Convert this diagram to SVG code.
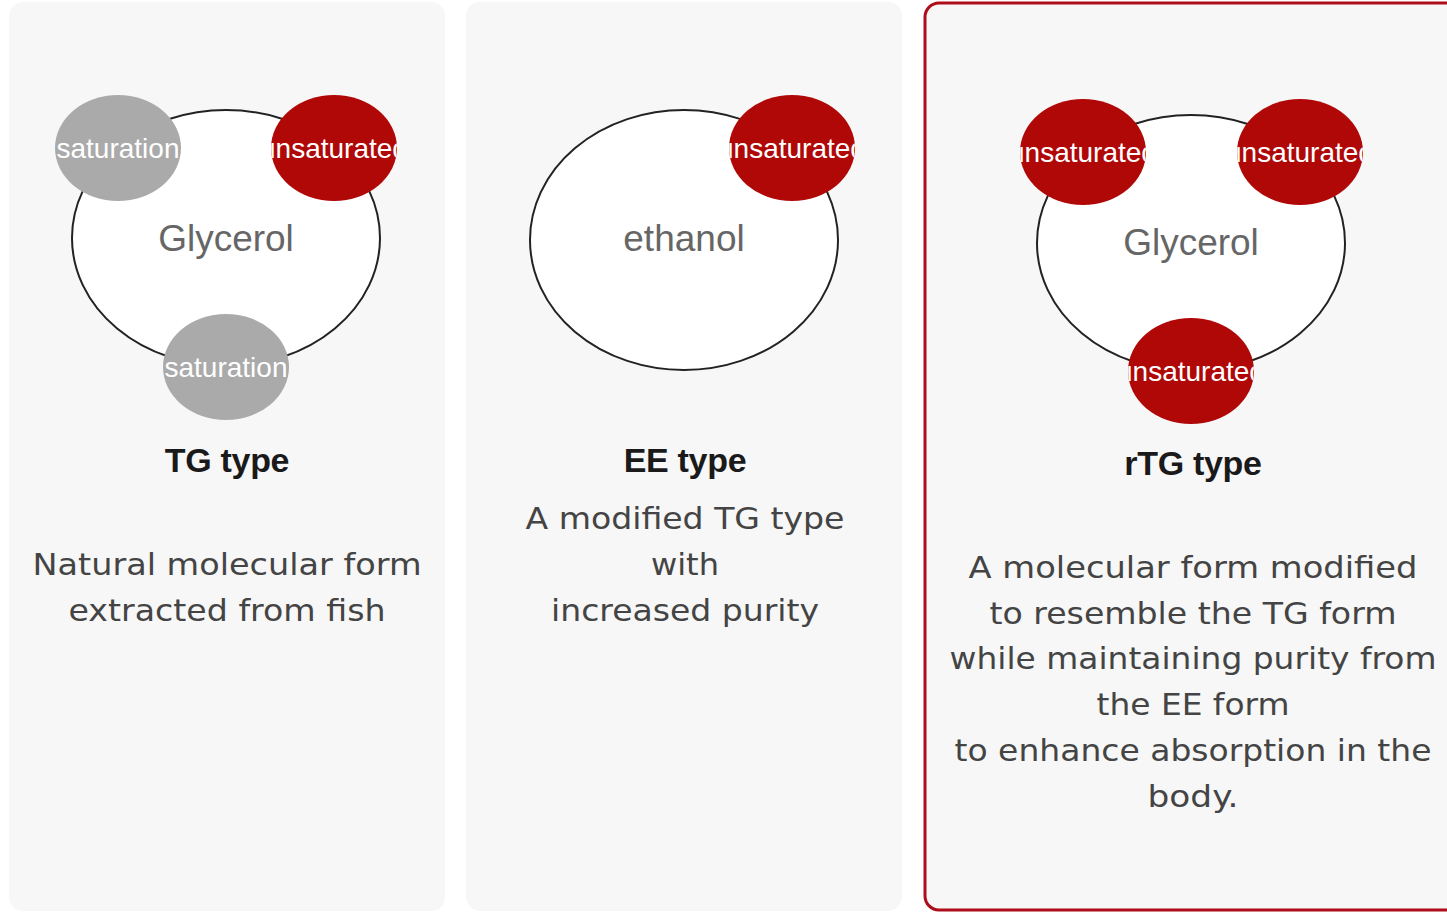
<svg xmlns="http://www.w3.org/2000/svg" width="1447" height="913" viewBox="0 0 1447 913">
<style>
.panel{fill:#f7f7f7}
.ring{fill:#ffffff;stroke:#222222;stroke-width:2}
.sat{fill:#aaaaaa}
.uns{fill:#b00707}
.ctext{font-family:"Liberation Sans",Arial,sans-serif;font-size:28px;fill:#ffffff;text-anchor:middle}
.core{font-family:"Liberation Sans",Arial,sans-serif;font-size:37px;fill:#666666;text-anchor:middle}
.title{font-family:"Liberation Sans",Arial,sans-serif;font-size:34px;font-weight:bold;fill:#1a1a1a;text-anchor:middle;letter-spacing:-0.3px}
.desc{font-family:"DejaVu Sans","Noto Sans",sans-serif;font-size:31px;fill:#444444;text-anchor:middle}
</style>
<defs>
<clipPath id="c1a"><ellipse cx="118" cy="148" rx="63" ry="53"/></clipPath>
<clipPath id="c1b"><ellipse cx="334" cy="148" rx="63" ry="53"/></clipPath>
<clipPath id="c1c"><ellipse cx="226" cy="367" rx="63" ry="53"/></clipPath>
<clipPath id="c2a"><ellipse cx="792" cy="148" rx="63" ry="53"/></clipPath>
<clipPath id="c3a"><ellipse cx="1083" cy="152" rx="63" ry="53"/></clipPath>
<clipPath id="c3b"><ellipse cx="1300" cy="152" rx="63" ry="53"/></clipPath>
<clipPath id="c3c"><ellipse cx="1191" cy="371" rx="63" ry="53"/></clipPath>
</defs>
<rect width="1447" height="913" fill="#ffffff"/>

<g id="panel-tg">
<rect class="panel" x="9" y="2" width="436" height="909" rx="14"/>
<ellipse class="ring" cx="226" cy="238" rx="154" ry="128"/>
<text class="core" x="226" y="251">Glycerol</text>
<ellipse class="sat" cx="118" cy="148" rx="63" ry="53"/>
<text class="ctext" x="118" y="158" clip-path="url(#c1a)">saturation</text>
<ellipse class="uns" cx="334" cy="148" rx="63" ry="53"/>
<text class="ctext" x="334" y="158" clip-path="url(#c1b)">unsaturated</text>
<ellipse class="sat" cx="226" cy="367" rx="63" ry="53"/>
<text class="ctext" x="226" y="377" clip-path="url(#c1c)">saturation</text>
<text class="title" x="227" y="472">TG type</text>
<text class="desc" x="227" y="575" textLength="389" lengthAdjust="spacingAndGlyphs">Natural molecular form</text>
<text class="desc" x="227" y="621" textLength="317" lengthAdjust="spacingAndGlyphs">extracted from fish</text>
</g>

<g id="panel-ee">
<rect class="panel" x="466" y="2" width="436" height="909" rx="14"/>
<ellipse class="ring" cx="684" cy="240" rx="154" ry="130"/>
<text class="core" x="684" y="251">ethanol</text>
<ellipse class="uns" cx="792" cy="148" rx="63" ry="53"/>
<text class="ctext" x="792" y="158" clip-path="url(#c2a)">unsaturated</text>
<text class="title" x="685" y="472">EE type</text>
<text class="desc" x="685" y="529" textLength="319" lengthAdjust="spacingAndGlyphs">A modified TG type</text>
<text class="desc" x="685" y="575" textLength="68" lengthAdjust="spacingAndGlyphs">with</text>
<text class="desc" x="685" y="621" textLength="268" lengthAdjust="spacingAndGlyphs">increased purity</text>
</g>

<g id="panel-rtg">
<rect class="panel" x="925" y="3" width="540" height="907" rx="14" stroke="#b00d1c" stroke-width="3"/>
<ellipse class="ring" cx="1191" cy="243" rx="154" ry="128"/>
<text class="core" x="1191" y="255">Glycerol</text>
<ellipse class="uns" cx="1083" cy="152" rx="63" ry="53"/>
<text class="ctext" x="1083" y="162" clip-path="url(#c3a)">unsaturated</text>
<ellipse class="uns" cx="1300" cy="152" rx="63" ry="53"/>
<text class="ctext" x="1300" y="162" clip-path="url(#c3b)">unsaturated</text>
<ellipse class="uns" cx="1191" cy="371" rx="63" ry="53"/>
<text class="ctext" x="1191" y="381" clip-path="url(#c3c)">unsaturated</text>
<text class="title" x="1193" y="475">rTG type</text>
<text class="desc" x="1193" y="578" textLength="449" lengthAdjust="spacingAndGlyphs">A molecular form modified</text>
<text class="desc" x="1193" y="624" textLength="407" lengthAdjust="spacingAndGlyphs">to resemble the TG form</text>
<text class="desc" x="1193" y="669" textLength="487" lengthAdjust="spacingAndGlyphs">while maintaining purity from</text>
<text class="desc" x="1193" y="715" textLength="193" lengthAdjust="spacingAndGlyphs">the EE form</text>
<text class="desc" x="1193" y="761" textLength="477" lengthAdjust="spacingAndGlyphs">to enhance absorption in the</text>
<text class="desc" x="1193" y="807" textLength="91" lengthAdjust="spacingAndGlyphs">body.</text>
</g>
<g id="connectors"/>
</svg>
